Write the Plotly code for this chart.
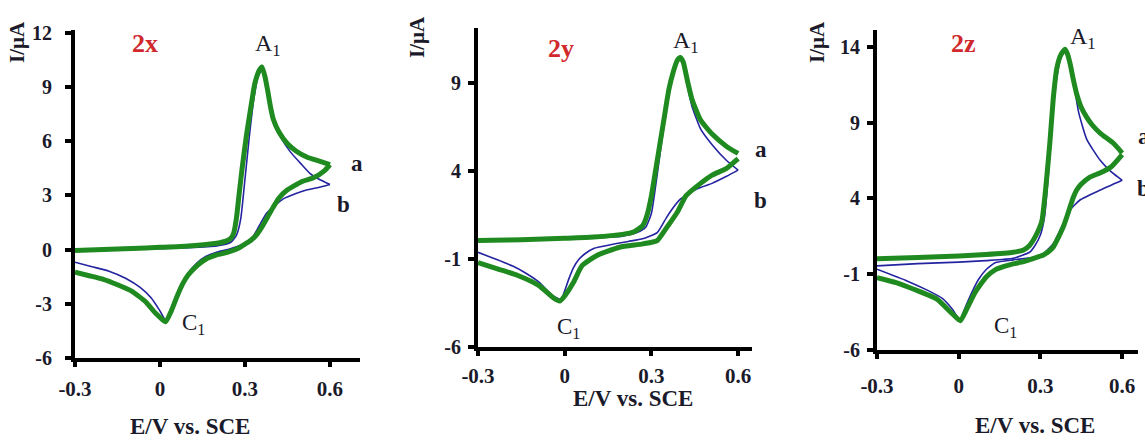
import plotly.graph_objects as go

W, H = 1145, 440

# ---------------- data ----------------
# Panel 2x
p1_a_fwd_E = [-0.30, -0.20, -0.10, 0.00, 0.10, 0.20, 0.235, 0.25, 0.26, 0.27, 0.28, 0.29, 0.305, 0.32, 0.335, 0.35, 0.36, 0.37, 0.38, 0.39, 0.40, 0.42, 0.45, 0.48, 0.52, 0.56, 0.60]
p1_a_fwd_I = [-0.05, 0.00, 0.05, 0.12, 0.20, 0.35, 0.48, 0.62, 0.90, 1.75, 3.15, 4.50, 6.30, 7.80, 9.20, 9.90, 10.1, 9.60, 8.80, 7.90, 7.20, 6.50, 5.85, 5.45, 5.10, 4.90, 4.70]
p1_a_rev_E = [0.60, 0.58, 0.54, 0.50, 0.45, 0.42, 0.40, 0.38, 0.36, 0.34, 0.32, 0.30, 0.28, 0.24, 0.20, 0.16, 0.13, 0.10, 0.08, 0.06, 0.04, 0.02, 0.00, -0.02, -0.05, -0.10, -0.15, -0.20, -0.25, -0.30]
p1_a_rev_I = [4.70, 4.35, 3.95, 3.75, 3.30, 2.85, 2.35, 1.80, 1.25, 0.80, 0.50, 0.30, 0.10, -0.15, -0.30, -0.55, -0.90, -1.40, -1.90, -2.60, -3.40, -4.00, -3.75, -3.45, -2.90, -2.30, -1.95, -1.65, -1.45, -1.25]
p1_b_fwd_E = [-0.30, -0.20, -0.10, 0.00, 0.10, 0.20, 0.25, 0.27, 0.285, 0.30, 0.315, 0.33, 0.345, 0.36, 0.37, 0.385, 0.40, 0.43, 0.46, 0.50, 0.53, 0.56, 0.60]
p1_b_fwd_I = [-0.10, -0.05, 0.00, 0.05, 0.10, 0.20, 0.40, 0.80, 1.70, 3.90, 6.20, 8.20, 9.50, 9.95, 9.50, 8.20, 7.00, 6.10, 5.40, 4.70, 4.20, 3.90, 3.60]
p1_b_rev_E = [0.60, 0.55, 0.52, 0.48, 0.435, 0.40, 0.376, 0.35, 0.33, 0.30, 0.27, 0.24, 0.20, 0.16, 0.13, 0.10, 0.08, 0.06, 0.04, 0.02, 0.00, -0.03, -0.07, -0.12, -0.18, -0.24, -0.30]
p1_b_rev_I = [3.60, 3.40, 3.30, 3.10, 2.80, 2.35, 2.00, 1.30, 0.75, 0.35, 0.15, 0.00, -0.15, -0.40, -0.75, -1.30, -1.90, -2.70, -3.40, -3.90, -3.40, -2.70, -2.10, -1.60, -1.20, -0.95, -0.70]

# Panel 2y
p2_a_fwd_E = [-0.30, -0.20, -0.10, 0.00, 0.10, 0.20, 0.24, 0.27, 0.285, 0.30, 0.315, 0.33, 0.345, 0.36, 0.375, 0.39, 0.40, 0.41, 0.425, 0.44, 0.47, 0.51, 0.56, 0.60]
p2_a_fwd_I = [0.05, 0.08, 0.12, 0.18, 0.25, 0.40, 0.55, 0.90, 1.50, 2.60, 4.10, 5.60, 7.10, 8.60, 9.60, 10.3, 10.45, 10.2, 9.10, 8.10, 6.90, 6.10, 5.40, 5.00]
p2_a_rev_E = [0.60, 0.56, 0.51, 0.47, 0.42, 0.39, 0.35, 0.32, 0.27, 0.19, 0.11, 0.06, 0.03, 0.00, -0.017, -0.04, -0.09, -0.16, -0.23, -0.30]
p2_a_rev_I = [4.70, 4.15, 3.77, 3.30, 2.60, 1.67, 0.72, 0.05, -0.14, -0.33, -0.81, -1.38, -2.34, -3.10, -3.39, -3.20, -2.50, -1.95, -1.57, -1.20]
p2_b_fwd_E = [-0.30, -0.20, -0.10, 0.00, 0.10, 0.20, 0.25, 0.28, 0.30, 0.315, 0.33, 0.345, 0.36, 0.375, 0.39, 0.40, 0.41, 0.425, 0.44, 0.47, 0.51, 0.56, 0.60]
p2_b_fwd_I = [0.00, 0.05, 0.10, 0.15, 0.20, 0.30, 0.50, 0.80, 1.60, 3.20, 5.00, 6.80, 8.50, 9.70, 10.3, 10.4, 10.0, 8.80, 7.70, 6.40, 5.50, 4.60, 4.05]
p2_b_rev_E = [0.60, 0.56, 0.51, 0.46, 0.40, 0.37, 0.35, 0.32, 0.27, 0.22, 0.17, 0.10, 0.07, 0.05, 0.03, 0.015, 0.00, -0.012, -0.04, -0.09, -0.14, -0.18, -0.24, -0.30]
p2_b_rev_I = [4.05, 3.70, 3.30, 3.00, 2.40, 1.80, 1.30, 0.50, 0.15, 0.00, -0.15, -0.40, -0.70, -1.00, -1.50, -2.10, -2.80, -3.30, -3.10, -2.30, -1.75, -1.40, -1.00, -0.62]

# Panel 2z
p3_a_fwd_E = [-0.30, -0.15, 0.00, 0.10, 0.20, 0.238, 0.26, 0.274, 0.29, 0.305, 0.32, 0.335, 0.347, 0.36, 0.375, 0.39, 0.40, 0.41, 0.42, 0.433, 0.45, 0.47, 0.49, 0.52, 0.567, 0.60]
p3_a_fwd_I = [0.03, 0.10, 0.20, 0.30, 0.45, 0.60, 0.90, 1.26, 1.80, 2.50, 4.80, 7.80, 10.6, 12.6, 13.5, 13.85, 13.5, 12.8, 11.9, 10.9, 10.0, 9.35, 8.85, 8.30, 7.66, 7.00]
p3_a_rev_E = [0.60, 0.56, 0.52, 0.48, 0.45, 0.433, 0.42, 0.409, 0.395, 0.384, 0.365, 0.348, 0.33, 0.311, 0.27, 0.238, 0.20, 0.164, 0.135, 0.10, 0.06, 0.024, 0.006, -0.024, -0.08, -0.165, -0.23, -0.30]
p3_a_rev_I = [6.90, 6.10, 5.70, 5.40, 4.95, 4.56, 4.05, 3.46, 2.70, 2.14, 1.40, 0.82, 0.50, 0.27, 0.02, -0.17, -0.32, -0.50, -0.70, -1.20, -2.20, -3.50, -4.07, -3.60, -2.64, -1.99, -1.55, -1.22]
p3_b_fwd_E = [-0.30, -0.15, 0.00, 0.10, 0.20, 0.26, 0.28, 0.30, 0.315, 0.33, 0.345, 0.36, 0.375, 0.39, 0.40, 0.42, 0.44, 0.47, 0.52, 0.56, 0.60]
p3_b_fwd_I = [-0.45, -0.30, -0.20, -0.10, 0.05, 0.45, 0.90, 1.60, 2.80, 5.80, 9.50, 12.0, 13.3, 13.7, 13.3, 11.8, 9.70, 7.90, 6.50, 5.75, 5.20]
p3_b_rev_E = [0.60, 0.52, 0.445, 0.409, 0.378, 0.348, 0.31, 0.27, 0.20, 0.135, 0.10, 0.073, 0.037, 0.015, 0.006, -0.024, -0.06, -0.11, -0.19, -0.30]
p3_b_rev_I = [5.20, 4.56, 3.90, 3.24, 2.14, 1.04, 0.35, 0.10, -0.05, -0.23, -0.70, -1.33, -2.64, -3.60, -4.05, -3.30, -2.60, -2.10, -1.44, -0.67]

panel_names = ["2x", "2y", "2z"]
x_ticks = [-0.3, 0, 0.3, 0.6]
x_tick_text = ["-0.3", "0", "0.3", "0.6"]
y_ticks = [[-6, -3, 0, 3, 6, 9, 12], [-6, -1, 4, 9], [-6, -1, 4, 9, 14]]
x_title = "E/V vs. SCE"
y_title = "I/μA"

# ---------------- layout geometry (pixels) ----------------
x_dom_px = [(75, 360), (478, 752), (877, 1138)]
y_dom_px = [(358, 30), (347, 28), (350, 30)]  # (bottom, top)
x_ranges = [[-0.3, 0.706], [-0.3, 0.648], [-0.3, 0.658]]
y_ranges = [[-6, 12.14], [-6, 12.13], [-6, 15.12]]
x_standoff = [4, 2, 9]
y_standoff = [9, 3, 3]

GREEN = "#1f8a1f"
BLUE = "#2424a0"
TXT = "#1a1a2a"
SERIF = "Liberation Serif"

data = [
    (p1_a_fwd_E, p1_a_fwd_I, p1_a_rev_E, p1_a_rev_I, p1_b_fwd_E, p1_b_fwd_I, p1_b_rev_E, p1_b_rev_I),
    (p2_a_fwd_E, p2_a_fwd_I, p2_a_rev_E, p2_a_rev_I, p2_b_fwd_E, p2_b_fwd_I, p2_b_rev_E, p2_b_rev_I),
    (p3_a_fwd_E, p3_a_fwd_I, p3_a_rev_E, p3_a_rev_I, p3_b_fwd_E, p3_b_fwd_I, p3_b_rev_E, p3_b_rev_I),
]

fig = go.Figure()
for i, d in enumerate(data):
    xa = "x" if i == 0 else f"x{i+1}"
    ya = "y" if i == 0 else f"y{i+1}"
    aFE, aFI, aRE, aRI, bFE, bFI, bRE, bRI = d
    for E, I in ((bFE, bFI), (bRE, bRI)):
        fig.add_trace(go.Scatter(x=E, y=I, mode="lines", xaxis=xa, yaxis=ya,
                                 line=dict(color=BLUE, width=1.6, shape="spline", smoothing=0.5),
                                 showlegend=False, hoverinfo="skip"))
    for E, I in ((aFE, aFI), (aRE, aRI)):
        fig.add_trace(go.Scatter(x=E, y=I, mode="lines", xaxis=xa, yaxis=ya,
                                 line=dict(color=GREEN, width=5, shape="spline", smoothing=0.5),
                                 showlegend=False, hoverinfo="skip"))

layout = dict(width=W, height=H, margin=dict(l=0, r=0, t=0, b=0, autoexpand=False),
              paper_bgcolor="white", plot_bgcolor="white", showlegend=False)

for i in range(3):
    xk = "xaxis" if i == 0 else f"xaxis{i+1}"
    yk = "yaxis" if i == 0 else f"yaxis{i+1}"
    xanchor = "y" if i == 0 else f"y{i+1}"
    yanchor = "x" if i == 0 else f"x{i+1}"
    x0, x1 = x_dom_px[i]
    yb, yt = y_dom_px[i]
    layout[xk] = dict(domain=[x0 / W, x1 / W], range=x_ranges[i], anchor=xanchor, automargin=False,
                      showgrid=False, zeroline=False, showline=True, linecolor="black", linewidth=4,
                      ticks="outside", ticklen=5, tickwidth=4, tickcolor="black",
                      tickvals=x_ticks, ticktext=x_tick_text, ticklabelstandoff=x_standoff[i],
                      tickfont=dict(family=SERIF, size=21, color=TXT, weight="bold"))
    layout[yk] = dict(domain=[1 - yb / H, 1 - yt / H], range=y_ranges[i], anchor=yanchor, automargin=False,
                      showgrid=False, zeroline=False, showline=True, linecolor="black", linewidth=4,
                      ticks="outside", ticklen=6, tickwidth=4, tickcolor="black",
                      tickvals=y_ticks[i], ticktext=[str(v) for v in y_ticks[i]],
                      ticklabelstandoff=y_standoff[i],
                      tickfont=dict(family=SERIF, size=20, color=TXT, weight="bold"))

fig.update_layout(**layout)

def ann(text, px, py, size, color=TXT, bold=True, angle=0, xanchor="center"):
    fig.add_annotation(text=text, x=px / W, y=1 - py / H, xref="paper", yref="paper",
                       showarrow=False, textangle=angle, xanchor=xanchor, yanchor="middle",
                       font=dict(family=SERIF, size=size, color=color, weight="bold" if bold else "normal"))

# panel names
name_pos = [(145, 43), (561, 49), (963, 44)]
for (px, py), nm in zip(name_pos, panel_names):
    ann(nm, px, py, 26, color="#d0282c")

# y titles
for px, py in [(17, 42), (417, 37), (817, 42)]:
    ann(y_title, px, py, 21, angle=-90)

# x titles
for px, py in [(190, 426), (633, 398), (1035, 425)]:
    ann(x_title, px, py, 23)

# peak labels
for px, py in [(268, 45), (686, 42), (1083, 38)]:
    ann("A<sub>1</sub>", px, py, 24, bold=False)
for px, py in [(193, 324), (568, 328), (1005, 327)]:
    ann("C<sub>1</sub>", px, py, 23, bold=False)

# curve labels
for px, py in [(357, 163), (761, 150)]:
    ann("a", px, py, 23)
for px, py in [(343, 205), (760, 200)]:
    ann("b", px, py, 23)
ann("a", 1136, 137, 23, xanchor="left")
ann("b", 1135, 188, 23, xanchor="left")

fig.write_html("out.html", config={"displayModeBar": False},
               post_script="document.body.style.margin='0px';document.body.style.overflow='hidden';")
